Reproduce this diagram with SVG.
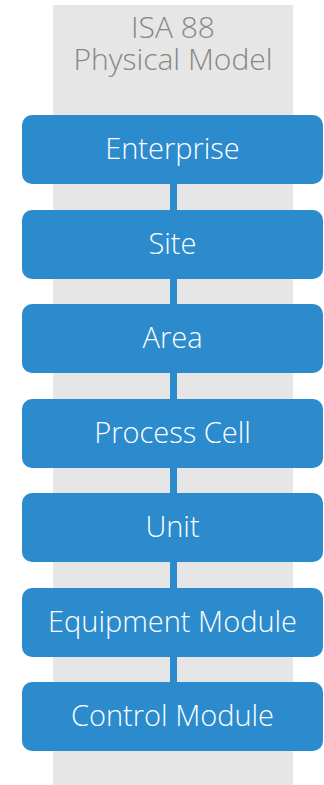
<svg xmlns="http://www.w3.org/2000/svg" width="324" height="785" viewBox="0 0 324 785">
  <style>
    .band { fill: #e6e6e6; }
    .title { font-family: "Open Sans", "Liberation Sans", sans-serif; font-weight: 300; font-size: 30px; fill: #878787; text-anchor: middle; }
    .box { fill: #2b8bcd; }
    .label { font-family: "Open Sans", "Liberation Sans", sans-serif; font-weight: 300; font-size: 29px; fill: #ffffff; text-anchor: middle; }
    .link { fill: #2b8bcd; }
  </style>
  <!-- background column -->
  <rect class="band" x="53" y="5" width="240" height="780"/>
  <text class="title" x="173" y="38">ISA 88<tspan x="173" y="70">Physical Model</tspan></text>

  <!-- vertical connectors between levels -->
  <g id="connectors">
    <rect class="link" x="170" y="183" width="7" height="28"/>
    <rect class="link" x="170" y="278" width="7" height="28"/>
    <rect class="link" x="170" y="372" width="7" height="28"/>
    <rect class="link" x="170" y="467" width="7" height="28"/>
    <rect class="link" x="170" y="561" width="7" height="28"/>
    <rect class="link" x="170" y="656" width="7" height="28"/>
  </g>

  <g id="enterprise">
    <rect class="box" x="22" y="115" width="301" height="69" rx="10"/>
    <text class="label" x="172.5" y="159">Enterprise</text>
  </g>
  <g id="site">
    <rect class="box" x="22" y="210" width="301" height="69" rx="10"/>
    <text class="label" x="172.5" y="254">Site</text>
  </g>
  <g id="area">
    <rect class="box" x="22" y="304" width="301" height="69" rx="10"/>
    <text class="label" x="172.5" y="348">Area</text>
  </g>
  <g id="process-cell">
    <rect class="box" x="22" y="399" width="301" height="69" rx="10"/>
    <text class="label" x="172.5" y="443">Process Cell</text>
  </g>
  <g id="unit">
    <rect class="box" x="22" y="493" width="301" height="69" rx="10"/>
    <text class="label" x="172.5" y="537">Unit</text>
  </g>
  <g id="equipment-module">
    <rect class="box" x="22" y="588" width="301" height="69" rx="10"/>
    <text class="label" x="172.5" y="632">Equipment Module</text>
  </g>
  <g id="control-module">
    <rect class="box" x="22" y="682" width="301" height="69" rx="10"/>
    <text class="label" x="172.5" y="726">Control Module</text>
  </g>
</svg>
